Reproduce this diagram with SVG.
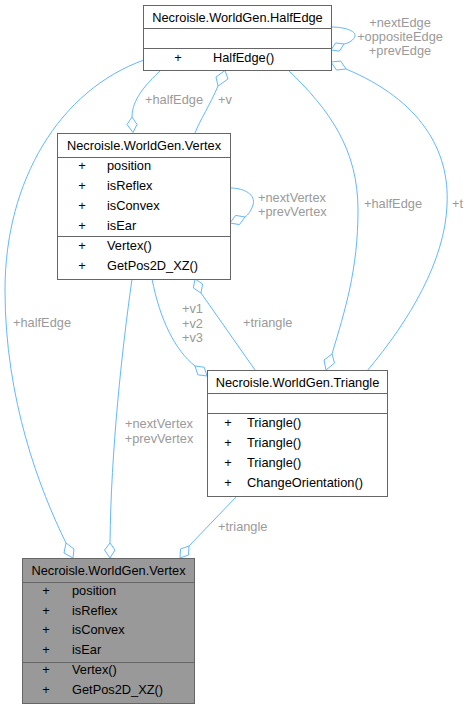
<svg xmlns="http://www.w3.org/2000/svg" width="469" height="709" viewBox="0 0 469 709">
<style>
text{font-family:"Liberation Sans",Arial,sans-serif;font-size:12.8px;fill:#000}
.lbl{fill:#9a9a9a}
.box{fill:#fff;stroke:#666;stroke-width:1}
.hl{fill:#999;stroke:#666;stroke-width:1}
.sep{stroke:#666;stroke-width:1}
.e{fill:none;stroke:#63b8ff;stroke-width:1}
.d{fill:#fff;stroke:#63b8ff;stroke-width:1}
.m{text-anchor:middle}
</style>
<g id="connectors">
<path class="e" d="M331,27 C345,27 356,31 355,36 C354,40 349,43 344,44"/>
<polygon class="d" points="331,50 339.4,51.1 344,44 335.6,42.9"/>
<path class="e" d="M346,69 C420,100 450,150 447,205 C445,260 410,320 367,371"/>
<polygon class="d" points="331,62 336.4,70 346,69 340.6,61"/>
<path class="e" d="M288,70 C330,110 358,150 358,210 C358,270 345,310 332,354"/>
<polygon class="d" points="332,354 334.5,363 326,370 324,360"/>
<path class="e" d="M161,70 C145,85 132,100 132,117"/>
<polygon class="d" points="132,117 137,124.5 133,132.5 127,124.5"/>
<path class="e" d="M218,86 C210,105 200,120 195,133"/>
<polygon class="d" points="225,70.5 228,79 218,86 216,77"/>
<path class="e" d="M230,188 C245,188 256,195 253,205 C251,211 248,215 245,217"/>
<polygon class="d" points="230,223 239.4,224.6 245,217 235.6,215.4"/>
<path class="e" d="M144,60 C60,90 5,180 5,290 C5,400 40,490 66,543"/>
<polygon class="d" points="66,543 74,549 73,558 64,553"/>
<path class="e" d="M132,279 C122,350 111,450 110,543"/>
<polygon class="d" points="110,543 115,550 110,558 104.5,550"/>
<path class="e" d="M152,279 C160,320 175,350 195,366"/>
<polygon class="d" points="207,376 204.2,367.2 195,366 197.8,374.8"/>
<path class="e" d="M201,293 L255,370"/>
<polygon class="d" points="195,279 193.4,288 201,293 202.6,284"/>
<path class="e" d="M237,496 L189,546"/>
<polygon class="d" points="180,558 188.5,555 189,546 180.5,549"/>
<text class="lbl m" x="400" y="27">+nextEdge</text>
<text class="lbl m" x="400" y="41">+oppositeEdge</text>
<text class="lbl m" x="400" y="55">+prevEdge</text>
<text class="lbl" x="145" y="104">+halfEdge</text>
<text class="lbl" x="218" y="104">+v</text>
<text class="lbl" x="258" y="202">+nextVertex</text>
<text class="lbl" x="258" y="216">+prevVertex</text>
<text class="lbl" x="364" y="208">+halfEdge</text>
<text class="lbl" x="452" y="208">+t</text>
<text class="lbl" x="13" y="327">+halfEdge</text>
<text class="lbl" x="203" y="313" text-anchor="end">+v1</text>
<text class="lbl" x="203" y="327.5" text-anchor="end">+v2</text>
<text class="lbl" x="203" y="342" text-anchor="end">+v3</text>
<text class="lbl" x="243" y="327">+triangle</text>
<text class="lbl m" x="159" y="428">+nextVertex</text>
<text class="lbl m" x="159" y="443">+prevVertex</text>
<text class="lbl" x="218" y="531">+triangle</text>
</g>
<g id="halfedge">
<rect class="box" x="143.5" y="5.5" width="188" height="65"/>
<line class="sep" x1="143.5" y1="28.5" x2="331.5" y2="28.5"/>
<line class="sep" x1="143.5" y1="48.5" x2="331.5" y2="48.5"/>
<text class="m" x="237.5" y="21.5">Necroisle.WorldGen.HalfEdge</text>
<text class="m" x="178" y="62">+</text>
<text x="213" y="62">HalfEdge()</text>
</g>
<g id="vertex">
<rect class="box" x="57.5" y="133.5" width="173" height="146"/>
<line class="sep" x1="57.5" y1="157.5" x2="230.5" y2="157.5"/>
<line class="sep" x1="57.5" y1="236.5" x2="230.5" y2="236.5"/>
<text class="m" x="144" y="150">Necroisle.WorldGen.Vertex</text>
<text class="m" x="82" y="170">+</text><text x="107" y="170">position</text>
<text class="m" x="82" y="190">+</text><text x="107" y="190">isReflex</text>
<text class="m" x="82" y="210">+</text><text x="107" y="210">isConvex</text>
<text class="m" x="82" y="230">+</text><text x="107" y="230">isEar</text>
<text class="m" x="82" y="250">+</text><text x="107" y="250">Vertex()</text>
<text class="m" x="82" y="270">+</text><text x="107" y="270">GetPos2D_XZ()</text>
</g>
<g id="triangle">
<rect class="box" x="207.5" y="370.5" width="180" height="126"/>
<line class="sep" x1="207.5" y1="393.5" x2="387.5" y2="393.5"/>
<line class="sep" x1="207.5" y1="413.5" x2="387.5" y2="413.5"/>
<text class="m" x="297.5" y="387">Necroisle.WorldGen.Triangle</text>
<text class="m" x="228" y="427">+</text><text x="247" y="427">Triangle()</text>
<text class="m" x="228" y="447">+</text><text x="247" y="447">Triangle()</text>
<text class="m" x="228" y="467">+</text><text x="247" y="467">Triangle()</text>
<text class="m" x="228" y="487">+</text><text x="247" y="487">ChangeOrientation()</text>
</g>
<g id="vertex_main">
<rect class="hl" x="22.5" y="558.5" width="172" height="145"/>
<line class="sep" x1="22.5" y1="582.5" x2="194.5" y2="582.5"/>
<line class="sep" x1="22.5" y1="662.5" x2="194.5" y2="662.5"/>
<text class="m" x="108.5" y="575">Necroisle.WorldGen.Vertex</text>
<text class="m" x="46" y="595">+</text><text x="72" y="595">position</text>
<text class="m" x="46" y="615">+</text><text x="72" y="615">isReflex</text>
<text class="m" x="46" y="634">+</text><text x="72" y="634">isConvex</text>
<text class="m" x="46" y="654">+</text><text x="72" y="654">isEar</text>
<text class="m" x="46" y="674">+</text><text x="72" y="674">Vertex()</text>
<text class="m" x="46" y="694">+</text><text x="72" y="694">GetPos2D_XZ()</text>
</g>
</svg>
